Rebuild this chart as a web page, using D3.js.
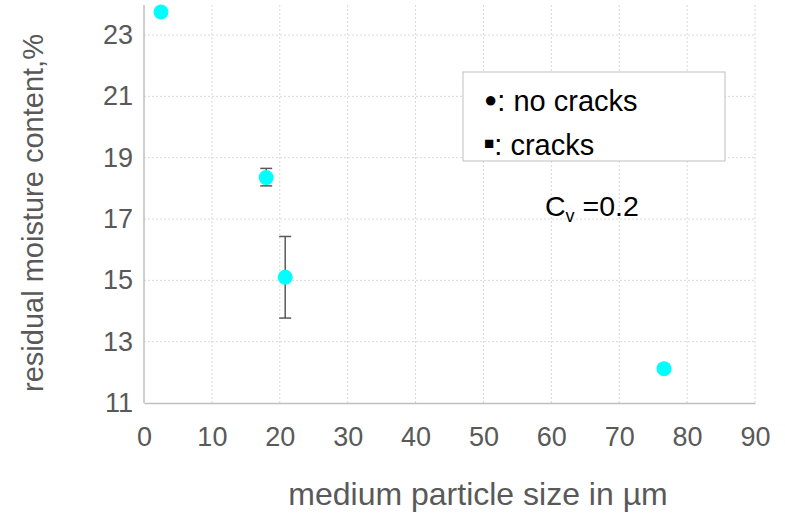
<!DOCTYPE html>
<html><head><meta charset="utf-8">
<script src="https://cdn.jsdelivr.net/npm/d3@7"></script>
<style>body{margin:0;background:#fff}text{font-family:"Liberation Sans",Arial,sans-serif}</style>
</head><body><svg id="c" width="785" height="513"></svg>
<script>
const sizes = [2.5, 18.0, 20.8, 76.6];
const moisture = [23.75, 18.35, 15.1, 12.12];
const errPlus = [0, 0.3, 1.33, 0];
const errMinus = [0, 0.27, 1.33, 0];
const xTicks = [0,10,20,30,40,50,60,70,80,90];
const yTicks = [11,13,15,17,19,21,23];

const svg = d3.select("#c");
const x = d3.scaleLinear().domain([0,90]).range([144,755]);
const y = d3.scaleLinear().domain([11,23]).range([403,35]);
const grey = "#595959";

// grid
svg.append("g").selectAll("line").data(xTicks.slice(1)).join("line")
  .attr("x1",d=>x(d)).attr("x2",d=>x(d)).attr("y1",y(11)).attr("y2",5)
  .attr("stroke","#d9d9d9").attr("stroke-width",1).attr("stroke-dasharray","2,2");
svg.append("g").selectAll("line").data(yTicks.slice(1)).join("line")
  .attr("x1",x(0)).attr("x2",x(90)).attr("y1",d=>y(d)).attr("y2",d=>y(d))
  .attr("stroke","#d9d9d9").attr("stroke-width",1).attr("stroke-dasharray","2,2");

// axes
const xa = svg.append("g").attr("transform",`translate(0,${y(11)})`)
  .call(d3.axisBottom(x).tickValues(xTicks).tickSize(0).tickPadding(24));
xa.select(".domain").attr("stroke","#bfbfbf").attr("stroke-width",1.5);
xa.selectAll("text").attr("fill",grey).style("font-size","27px");
const ya = svg.append("g").attr("transform",`translate(${x(0)},0)`)
  .call(d3.axisLeft(y).tickValues(yTicks).tickSize(0).tickPadding(11));
ya.select(".domain").attr("stroke","#bfbfbf").attr("stroke-width",1.5).attr("d",`M0,${y(11)}V5`);
ya.selectAll("text").attr("fill",grey).style("font-size","27px");

// titles
svg.append("text").attr("x",478).attr("y",505).attr("text-anchor","middle")
  .attr("fill",grey).style("font-size","32px").text("medium particle size in µm");
svg.append("text").attr("transform",`translate(43,213) rotate(-90)`).attr("text-anchor","middle")
  .attr("fill",grey).style("font-size","29px").text("residual moisture content,%");

// error bars
const eb = svg.append("g").attr("stroke",grey).attr("stroke-width",1.5);
sizes.forEach((s,i)=>{
  if(!errPlus[i]) return;
  const cx=x(s), y1=y(moisture[i]+errPlus[i]), y2=y(moisture[i]-errMinus[i]);
  eb.append("line").attr("x1",cx).attr("x2",cx).attr("y1",y1).attr("y2",y2);
  eb.append("line").attr("x1",cx-6).attr("x2",cx+6).attr("y1",y1).attr("y2",y1);
  eb.append("line").attr("x1",cx-6).attr("x2",cx+6).attr("y1",y2).attr("y2",y2);
});

// points
svg.append("g").selectAll("circle").data(sizes).join("circle")
  .attr("cx",d=>x(d)).attr("cy",(d,i)=>y(moisture[i])).attr("r",7.5).attr("fill","#00ffff");

// legend
svg.append("rect").attr("x",463).attr("y",72).attr("width",262).attr("height",89)
  .attr("fill","#fff").attr("stroke","#bfbfbf").attr("stroke-width",1);
const l1 = svg.append("text").attr("x",484).attr("y",111).attr("fill","#000").style("font-size","29px");
l1.append("tspan").style("font-size","22px").attr("dy",-4).text("●");
l1.append("tspan").attr("dy",4).text(": no cracks");
const l2 = svg.append("text").attr("x",484).attr("y",155).attr("fill","#000").style("font-size","29px");
l2.append("tspan").style("font-size","17px").attr("dy",-6).text("■");
l2.append("tspan").attr("dy",6).text(": cracks");
const cv = svg.append("text").attr("x",545).attr("y",216).attr("fill","#000").style("font-size","28.5px");
cv.append("tspan").text("C");
cv.append("tspan").attr("dy",6).style("font-size","18px").text("v");
cv.append("tspan").attr("dy",-6).text(" =0.2");
</script></body></html>
